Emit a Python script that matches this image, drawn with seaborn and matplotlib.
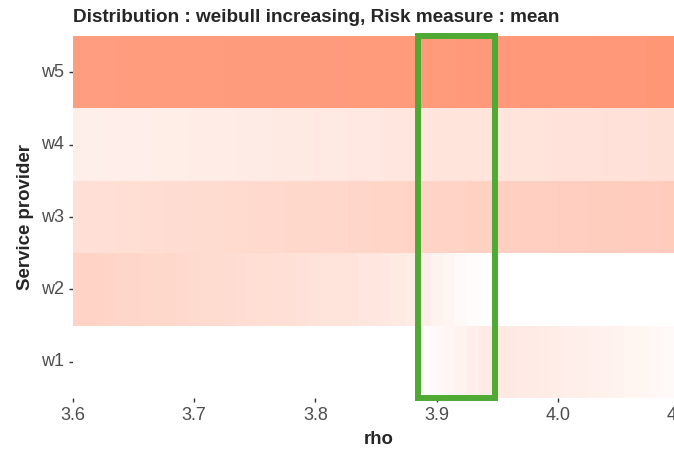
import matplotlib
matplotlib.use("Agg")
import matplotlib.pyplot as plt
import matplotlib.patches as patches
from matplotlib.colors import LinearSegmentedColormap
import pandas as pd
import seaborn as sns

# rho grid (step 0.01)
rho = [3.60, 3.61, 3.62, 3.63, 3.64, 3.65, 3.66, 3.67, 3.68, 3.69,
       3.70, 3.71, 3.72, 3.73, 3.74, 3.75, 3.76, 3.77, 3.78, 3.79,
       3.80, 3.81, 3.82, 3.83, 3.84, 3.85, 3.86, 3.87, 3.88, 3.89,
       3.90, 3.91, 3.92, 3.93, 3.94, 3.95, 3.96, 3.97, 3.98, 3.99,
       4.00, 4.01, 4.02, 4.03, 4.04, 4.05, 4.06, 4.07, 4.08, 4.09, 4.10]

providers = ["w5", "w4", "w3", "w2", "w1"]

w5 = [0.92, 0.92, 0.92, 0.92, 0.93, 0.93, 0.93, 0.93, 0.93, 0.93,
      0.93, 0.93, 0.93, 0.94, 0.94, 0.94, 0.94, 0.94, 0.94, 0.94,
      0.94, 0.94, 0.94, 0.95, 0.95, 0.95, 0.95, 0.95, 0.95, 0.95,
      0.95, 0.95, 0.96, 0.96, 0.96, 0.96, 0.96, 0.97, 0.97, 0.97,
      0.97, 0.97, 0.97, 0.98, 0.98, 0.98, 0.98, 0.98, 0.99, 0.99, 0.99]
w4 = [0.15, 0.15, 0.15, 0.16, 0.16, 0.16, 0.16, 0.17, 0.17, 0.17,
      0.18, 0.18, 0.18, 0.18, 0.19, 0.19, 0.19, 0.20, 0.20, 0.20,
      0.21, 0.21, 0.21, 0.22, 0.22, 0.22, 0.23, 0.23, 0.24, 0.24,
      0.25, 0.25, 0.25, 0.25, 0.25, 0.26, 0.26, 0.26, 0.26, 0.26,
      0.27, 0.27, 0.27, 0.27, 0.28, 0.28, 0.28, 0.28, 0.29, 0.29, 0.29]
w3 = [0.29, 0.29, 0.30, 0.30, 0.31, 0.31, 0.32, 0.32, 0.33, 0.33,
      0.34, 0.34, 0.34, 0.35, 0.35, 0.36, 0.36, 0.36, 0.37, 0.37,
      0.38, 0.38, 0.38, 0.39, 0.39, 0.40, 0.40, 0.40, 0.41, 0.41,
      0.42, 0.42, 0.42, 0.43, 0.43, 0.44, 0.44, 0.44, 0.45, 0.45,
      0.46, 0.46, 0.46, 0.47, 0.47, 0.47, 0.48, 0.48, 0.48, 0.49, 0.49]
w2 = [0.42, 0.41, 0.41, 0.40, 0.39, 0.39, 0.38, 0.37, 0.37, 0.36,
      0.35, 0.34, 0.34, 0.33, 0.32, 0.31, 0.31, 0.30, 0.29, 0.28,
      0.27, 0.26, 0.26, 0.25, 0.24, 0.23, 0.21, 0.20, 0.18, 0.16,
      0.12, 0.09, 0.06, 0.03, 0.01, 0.0, 0.0, 0.0, 0.0, 0.0,
      0.0, 0.0, 0.0, 0.0, 0.0, 0.0, 0.0, 0.0, 0.0, 0.0, 0.0]
w1 = [0.0, 0.0, 0.0, 0.0, 0.0, 0.0, 0.0, 0.0, 0.0, 0.0,
      0.0, 0.0, 0.0, 0.0, 0.0, 0.0, 0.0, 0.0, 0.0, 0.0,
      0.0, 0.0, 0.0, 0.0, 0.0, 0.0, 0.0, 0.0, 0.0, 0.02,
      0.05, 0.09, 0.12, 0.16, 0.19, 0.20, 0.20, 0.19, 0.19, 0.18,
      0.17, 0.16, 0.15, 0.14, 0.13, 0.11, 0.10, 0.09, 0.07, 0.06, 0.05]

x_ticks = [3.6, 3.7, 3.8, 3.9, 4.0, 4.1]
x_ticklabels = ["3.6", "3.7", "3.8", "3.9", "4.0", "4.1"]

df = pd.DataFrame([w5, w4, w3, w2, w1], index=providers, columns=rho)

sns.set_style("white")
plt.rcParams["font.family"] = ["Liberation Sans", "DejaVu Sans"]

cmap = LinearSegmentedColormap.from_list("wsalmon", ["#FFFFFF", "#FF9575"])

fig = plt.figure(figsize=(6.74, 4.55), dpi=100)
# panel runs a bit past the right edge of the picture (cropped like the original)
ax = fig.add_axes([73 / 674, 1 - 398 / 455, 612 / 674, 362 / 455])
sns.heatmap(df, cmap=cmap, vmin=0, vmax=1, cbar=False, ax=ax)


def rho_pos(r):
    # heatmap cell i covers [i, i+1] with centre at rho[i]
    return (r - rho[0]) / 0.01 + 0.5


ax.set_xticks([rho_pos(t) for t in x_ticks])
ax.set_xticklabels(x_ticklabels, rotation=0)
ax.set_yticks([i + 0.5 for i in range(len(providers))])
ax.set_yticklabels(providers, rotation=0)
ax.set_xlim(rho_pos(3.6), rho_pos(4.105))
ax.set_ylim(len(providers), 0)

ax.tick_params(axis="both", length=3, width=1, color="#333333",
               labelcolor="#4D4D4D", labelsize=13, pad=3.5)
ax.tick_params(axis="x", bottom=True)
ax.tick_params(axis="y", left=True)

# highlight box around the transition zone
rect = patches.Rectangle((rho_pos(3.885), 0), rho_pos(3.948) - rho_pos(3.885),
                         len(providers), fill=False, edgecolor="#4FAA33",
                         linewidth=4.3, clip_on=False, zorder=5)
ax.add_patch(rect)

ax.set_xlabel("rho", fontsize=13.4, fontweight="bold", labelpad=5)
ax.set_ylabel("Service provider", fontsize=13.4, fontweight="bold", labelpad=5)
fig.text(73 / 674, 1 - 22 / 455, "Distribution : weibull increasing, Risk measure : mean",
         fontsize=13.6, fontweight="bold", ha="left", va="baseline")

fig.savefig("out.png", dpi=100)
